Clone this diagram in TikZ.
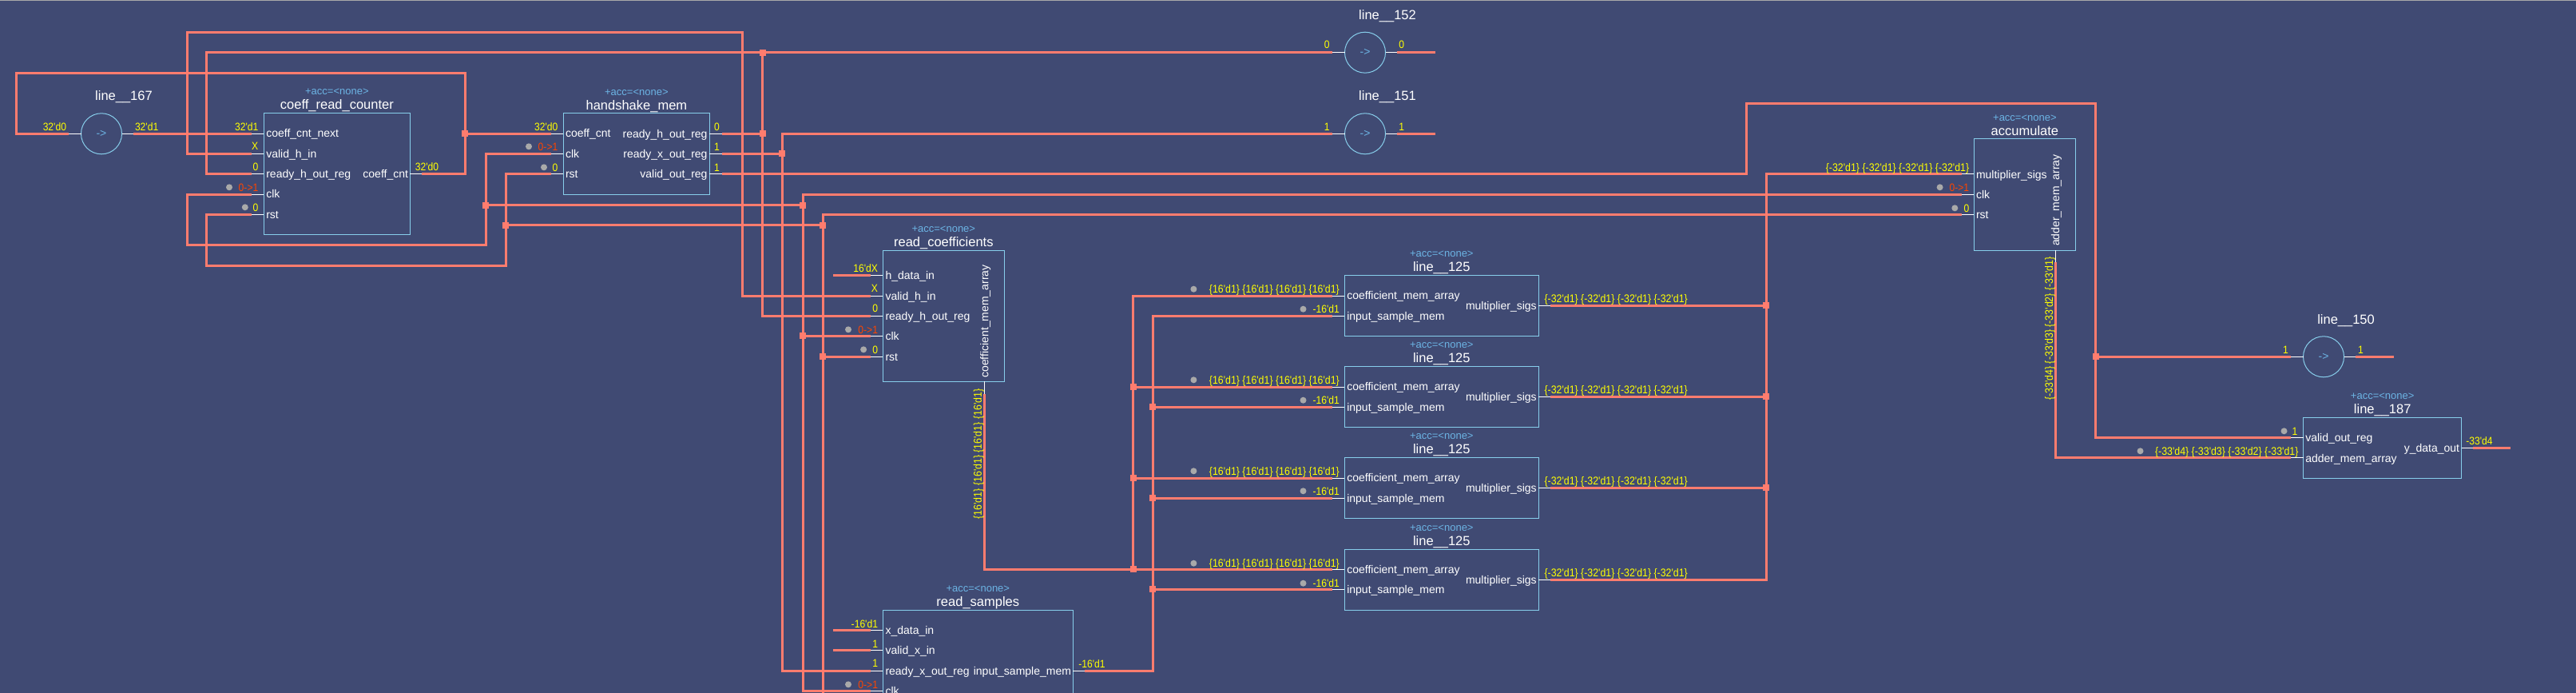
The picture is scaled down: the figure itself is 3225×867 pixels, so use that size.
\documentclass[tikz,border=0pt]{standalone}
\usepackage{fontspec}
\newfontfamily\sigfont{Liberation Sans}
\newfontfamily\valfont[FakeStretch=0.89]{Liberation Sans}
\definecolor{cfond}{HTML}{404A73}
\definecolor{cfil}{HTML}{FF7C6E}
\definecolor{cbord}{HTML}{87CEEB}
\definecolor{cacc}{HTML}{6CB4E4}
\definecolor{cval}{HTML}{FFFF00}
\definecolor{cfront}{HTML}{FF4500}
\definecolor{cpoint}{HTML}{A9A9A9}
\begin{document}
\begin{tikzpicture}[x=1pt, y=-1pt]
	\tikzset{
		bloc/.style={rectangle, draw=cbord, line width=1pt, inner sep=0pt, outer sep=0pt},
		cercle/.style={circle, draw=cbord, line width=1pt, inner sep=0pt, outer sep=0pt, minimum size=51pt, text=cacc, font=\sigfont\fontsize{14}{16}\selectfont},
		fil/.style={draw=cfil, line width=3pt},
		patte/.style={draw=white, line width=1pt},
		jonction/.style={rectangle, fill=cfil, inner sep=0pt, outer sep=0pt, minimum size=8pt},
		temoin/.style={circle, fill=cpoint, inner sep=0pt, outer sep=0pt, minimum size=8pt},
		texte/.style={inner sep=0pt, outer sep=0pt, text depth=0pt},
		titre/.style={texte, text=white, text height=11.8pt, font=\sigfont\fontsize{16.5}{18}\selectfont},
		acc/.style={texte, text=cacc, text height=9.4pt, font=\sigfont\fontsize{13}{15}\selectfont},
		port/.style={texte, text=white, text height=10pt, font=\sigfont\fontsize{14}{16}\selectfont},
		val/.style={texte, text=cval, text height=9.7pt, font=\valfont\fontsize{13.6}{15}\selectfont},
		bus/.style={texte, text=cval, text height=9.7pt, font=\valfont\fontsize{13.9}{15}\selectfont},
		montant/.style={texte, text=cfront, text height=9.7pt, font=\valfont\fontsize{13.6}{15}\selectfont}
	}

	\useasboundingbox (0,0) rectangle (3225,867);
	\clip (0,0) rectangle (3225,867);
	\fill[cfond] (0,0) rectangle (3225,867);
	\fill[cpoint] (0,0) rectangle (3225,1.5);

	\node[bloc, minimum width=183pt,   minimum height=152pt] (crc)   at ( 421.9, 217.3) {};
	\node[bloc, minimum width=183pt,   minimum height=102pt] (hm)    at ( 796.9, 192.3) {};
	\node[bloc, minimum width=151.7pt, minimum height=164pt] (rc)    at (1181.3, 395.3) {};
	\node[bloc, minimum width=237.8pt, minimum height=152pt] (rs)    at (1224.3, 839.3) {};
	\node[bloc, minimum width=243.1pt, minimum height=76pt]  (l125a) at (1804.8, 382.3) {};
	\node[bloc, minimum width=243.1pt, minimum height=76pt]  (l125b) at (1804.8, 496.3) {};
	\node[bloc, minimum width=243.1pt, minimum height=76pt]  (l125c) at (1804.8, 610.3) {};
	\node[bloc, minimum width=243.1pt, minimum height=76pt]  (l125d) at (1804.8, 725.3) {};
	\node[bloc, minimum width=127.1pt, minimum height=140pt] (ac)    at (2534.9, 243.3) {};
	\node[bloc, minimum width=197.9pt, minimum height=76pt]  (l187)  at (2982.7, 560.3) {};

	\node[cercle] (l167) at ( 127,   167.3) {->};
	\node[cercle] (l152) at (1709,    65.7) {->};
	\node[cercle] (l151) at (1709,   167.3) {->};
	\node[cercle] (l150) at (2909,   446.3) {->};

	\node[titre] (t_l167)  at ( 155,   120)   {line\_\_167};
	\node[titre] (t_l152)  at (1737,    18.3) {line\_\_152};
	\node[titre] (t_l151)  at (1737,   120)   {line\_\_151};
	\node[titre] (t_l150)  at (2937,   399.3) {line\_\_150};
	\node[titre] (t_crc)   at ( 421.9, 131)   {coeff\_read\_counter};
	\node[titre] (t_hm)    at ( 796.9, 131.7) {handshake\_mem};
	\node[titre] (t_rc)    at (1181.3, 302.7) {read\_coefficients};
	\node[titre] (t_rs)    at (1224.3, 752.7) {read\_samples};
	\node[titre] (t_l125a) at (1804.8, 333.3) {line\_\_125};
	\node[titre] (t_l125b) at (1804.8, 447.3) {line\_\_125};
	\node[titre] (t_l125c) at (1804.8, 561.3) {line\_\_125};
	\node[titre] (t_l125d) at (1804.8, 676.3) {line\_\_125};
	\node[titre] (t_ac)    at (2534.9, 163.3) {accumulate};
	\node[titre] (t_l187)  at (2982.7, 511.7) {line\_\_187};

	\node[acc] (a_crc)   at ( 421.9, 113.7) {+acc=<none>};
	\node[acc] (a_hm)    at ( 796.9, 114.7) {+acc=<none>};
	\node[acc] (a_rc)    at (1181.3, 286)   {+acc=<none>};
	\node[acc] (a_rs)    at (1224.3, 736)   {+acc=<none>};
	\node[acc] (a_l125a) at (1804.8, 316.7) {+acc=<none>};
	\node[acc] (a_l125b) at (1804.8, 430.3) {+acc=<none>};
	\node[acc] (a_l125c) at (1804.8, 544.7) {+acc=<none>};
	\node[acc] (a_l125d) at (1804.8, 660)   {+acc=<none>};
	\node[acc] (a_ac)    at (2534.9, 146.7) {+acc=<none>};
	\node[acc] (a_l187)  at (2982.7, 494.7) {+acc=<none>};

	\node[port, anchor=west] (p_crc1) at ( 333.3, 166)   {coeff\_cnt\_next};
	\node[port, anchor=west] (p_crc2) at ( 333.3, 192)   {valid\_h\_in};
	\node[port, anchor=west] (p_crc3) at ( 333.3, 217)   {ready\_h\_out\_reg};
	\node[port, anchor=west] (p_crc4) at ( 333.3, 242.5) {clk};
	\node[port, anchor=west] (p_crc5) at ( 333.3, 268)   {rst};
	\node[port, anchor=east] (p_crc6) at ( 511,   217)   {coeff\_cnt};
	\node[port, anchor=west] (p_hm1)  at ( 708,   166)   {coeff\_cnt};
	\node[port, anchor=west] (p_hm2)  at ( 708,   192)   {clk};
	\node[port, anchor=west] (p_hm3)  at ( 708,   217)   {rst};
	\node[port, anchor=east] (p_hm4)  at ( 885.5, 167)   {ready\_h\_out\_reg};
	\node[port, anchor=east] (p_hm5)  at ( 885.5, 192)   {ready\_x\_out\_reg};
	\node[port, anchor=east] (p_hm6)  at ( 885.5, 217.5) {valid\_out\_reg};
	\node[port, anchor=west] (p_rc1)  at (1108.5, 344.3) {h\_data\_in};
	\node[port, anchor=west] (p_rc2)  at (1108.5, 370)   {valid\_h\_in};
	\node[port, anchor=west] (p_rc3)  at (1108.5, 395)   {ready\_h\_out\_reg};
	\node[port, anchor=west] (p_rc4)  at (1108.5, 420)   {clk};
	\node[port, anchor=west] (p_rc5)  at (1108.5, 446.3) {rst};
	\node[port, rotate=90]   (p_rc6)  at (1232.3, 402)   {coefficient\_mem\_array};
	\node[port, anchor=west] (p_rs1)  at (1108.5, 788.3) {x\_data\_in};
	\node[port, anchor=west] (p_rs2)  at (1108.5, 813.3) {valid\_x\_in};
	\node[port, anchor=west] (p_rs3)  at (1108.5, 839.3) {ready\_x\_out\_reg};
	\node[port, anchor=west] (p_rs4)  at (1108.5, 864.3) {clk};
	\node[port, anchor=east] (p_rs5)  at (1341,   839.3) {input\_sample\_mem};

	\node[port, anchor=west] (p_l125a1) at (1686.3, 369.5) {coefficient\_mem\_array};
	\node[port, anchor=west] (p_l125a2) at (1686.3, 395.3) {input\_sample\_mem};
	\node[port, anchor=east] (p_l125a3) at (1923.7, 382.3) {multiplier\_sigs};
	\node[port, anchor=west] (p_l125b1) at (1686.3, 483.5) {coefficient\_mem\_array};
	\node[port, anchor=west] (p_l125b2) at (1686.3, 509.3) {input\_sample\_mem};
	\node[port, anchor=east] (p_l125b3) at (1923.7, 496.3) {multiplier\_sigs};
	\node[port, anchor=west] (p_l125c1) at (1686.3, 597.5) {coefficient\_mem\_array};
	\node[port, anchor=west] (p_l125c2) at (1686.3, 623.3) {input\_sample\_mem};
	\node[port, anchor=east] (p_l125c3) at (1923.7, 610.3) {multiplier\_sigs};
	\node[port, anchor=west] (p_l125d1) at (1686.3, 712)   {coefficient\_mem\_array};
	\node[port, anchor=west] (p_l125d2) at (1686.3, 737.3) {input\_sample\_mem};
	\node[port, anchor=east] (p_l125d3) at (1923.7, 725.3) {multiplier\_sigs};

	\node[port, anchor=west] (p_ac1)  at (2474,   218)   {multiplier\_sigs};
	\node[port, anchor=west] (p_ac2)  at (2474,   243.3) {clk};
	\node[port, anchor=west] (p_ac3)  at (2474,   268.3) {rst};
	\node[port, rotate=90]   (p_ac4)  at (2573.2, 250.7) {adder\_mem\_array};
	\node[port, anchor=west] (p_l187a) at (2886.3, 547.3) {valid\_out\_reg};
	\node[port, anchor=west] (p_l187b) at (2886.3, 573)   {adder\_mem\_array};
	\node[port, anchor=east] (p_l187c) at (3079,   560.3) {y\_data\_out};

	\coordinate (l167_in)  at (  86,   167.3);
	\coordinate (l167_out) at ( 167,   167.3);
	\coordinate (l152_in)  at (1667.9,  65.7);
	\coordinate (l152_out) at (1748.9,  65.7);
	\coordinate (l152_fin) at (1796.7,  65.7);
	\coordinate (l151_in)  at (1667.9, 167.3);
	\coordinate (l151_out) at (1748.9, 167.3);
	\coordinate (l151_fin) at (1796.7, 167.3);
	\coordinate (l150_in)  at (2867.9, 446.3);
	\coordinate (l150_out) at (2949,   446.3);
	\coordinate (l150_fin) at (2997.4, 446.3);

	\coordinate (crc_next) at ( 315,   167.3);
	\coordinate (crc_vh)   at ( 315,   192.3);
	\coordinate (crc_rh)   at ( 315,   217.3);
	\coordinate (crc_clk)  at ( 315,   243.3);
	\coordinate (crc_rst)  at ( 315,   268.3);
	\coordinate (crc_cnt)  at ( 528,   217.3);
	\coordinate (hm_cnt)   at ( 690,   167.3);
	\coordinate (hm_clk)   at ( 690,   192.3);
	\coordinate (hm_rst)   at ( 690,   217.3);
	\coordinate (hm_rh)    at ( 903.7, 167.3);
	\coordinate (hm_rx)    at ( 903.7, 192.3);
	\coordinate (hm_v)     at ( 903.7, 217.3);
	\coordinate (rc_h)     at (1090,   344.3);
	\coordinate (rc_hfin)  at (1042.9, 344.3);
	\coordinate (rc_vh)    at (1090,   370.3);
	\coordinate (rc_rh)    at (1090,   395.3);
	\coordinate (rc_clk)   at (1090,   420.3);
	\coordinate (rc_rst)   at (1090,   446.3);
	\coordinate (rc_out)   at (1232.3, 493.3);
	\coordinate (rs_x)     at (1090,   788.3);
	\coordinate (rs_xfin)  at (1042.9, 788.3);
	\coordinate (rs_vx)    at (1090,   813.3);
	\coordinate (rs_vxfin) at (1042.9, 813.3);
	\coordinate (rs_rx)    at (1090,   839.3);
	\coordinate (rs_clk)   at (1090,   864.3);
	\coordinate (rs_out)   at (1357.9, 839.3);
	\coordinate (l125a_c)  at (1667.9, 370.3);
	\coordinate (l125a_i)  at (1667.9, 395.3);
	\coordinate (l125a_m)  at (1941,   382.3);
	\coordinate (l125b_c)  at (1667.9, 484.3);
	\coordinate (l125b_i)  at (1667.9, 509.3);
	\coordinate (l125b_m)  at (1941,   496.3);
	\coordinate (l125c_c)  at (1667.9, 598.3);
	\coordinate (l125c_i)  at (1667.9, 623.3);
	\coordinate (l125c_m)  at (1941,   610.3);
	\coordinate (l125d_c)  at (1667.9, 712.3);
	\coordinate (l125d_i)  at (1667.9, 737.3);
	\coordinate (l125d_m)  at (1941,   725.3);
	\coordinate (ac_m)     at (2455.8, 217.3);
	\coordinate (ac_clk)   at (2455.8, 243.3);
	\coordinate (ac_rst)   at (2455.8, 268.3);
	\coordinate (ac_out)   at (2573.7, 328.3);
	\coordinate (l187_v)   at (2867.9, 547.3);
	\coordinate (l187_a)   at (2867.9, 572.3);
	\coordinate (l187_out) at (3096.3, 560.3);
	\coordinate (l187_fin) at (3143.2, 560.3);

	\coordinate (c_cnt1) at ( 582.3,  91.3);
	\coordinate (c_cnt2) at (  20.4,  91.3);
	\coordinate (c_vh1)  at ( 234,    40.7);
	\coordinate (c_vh2)  at ( 929.8,  40.7);
	\coordinate (c_rh)   at ( 258.3,  65.7);
	\coordinate (c_rx)   at ( 979.4, 167.3);
	\coordinate (c_v1)   at (2186.6, 217.3);
	\coordinate (c_v2)   at (2186.6, 129.5);
	\coordinate (c_v3)   at (2623.7, 129.5);
	\coordinate (c_k1)   at ( 608.4, 306);
	\coordinate (c_k2)   at ( 234,   306);
	\coordinate (c_k3)   at (1005.2, 243.3);
	\coordinate (c_r1)   at ( 633.3, 332.3);
	\coordinate (c_r2)   at ( 258.3, 332.3);
	\coordinate (c_r3)   at (1030.1, 268.3);
	\coordinate (c_r4)   at (1030.1, 867);
	\coordinate (c_i)    at (1443.4, 395.3);
	\coordinate (c_c)    at (1418.5, 370.3);
	\coordinate (c_m)    at (2211.2, 217.3);

	\draw[fil] (l167_out) -- (crc_next);
	\draw[fil] (crc_cnt) -| (c_cnt1) -- (c_cnt2) |- (l167_in);
	\draw[fil] (crc_vh) -| (c_vh1) -- (c_vh2) |- (rc_vh);
	\draw[fil] (crc_rh) -| (c_rh) -- (l152_in);
	\draw[fil] (l151_in) -- (c_rx) |- (rs_rx);
	\draw[fil] (hm_v) -- (c_v1) -- (c_v2) -- (c_v3) |- (l187_v);
	\draw[fil] (hm_clk) -| (c_k1) -- (c_k2) |- (crc_clk);
	\draw[fil] (ac_clk) -- (c_k3) |- (rs_clk);
	\draw[fil] (hm_rst) -| (c_r1) -- (c_r2) |- (crc_rst);
	\draw[fil] (ac_rst) -- (c_r3) -- (c_r4);
	\draw[fil] (rc_out) |- (l125d_c);
	\draw[fil] (l125a_c) -- (c_c) -- (c_c |- l125d_c);
	\draw[fil] (rs_out) -| (c_i) -- (l125a_i);
	\draw[fil] (l125d_m) -| (c_m) -- (ac_m);
	\draw[fil] (ac_out) |- (l187_a);
	\draw[fil] (rc_h) -- (rc_hfin);
	\draw[fil] (rs_x) -- (rs_xfin);
	\draw[fil] (rs_vx) -- (rs_vxfin);
	\draw[fil] (l152_out) -- (l152_fin);
	\draw[fil] (l151_out) -- (l151_fin);
	\draw[fil] (l150_out) -- (l150_fin);
	\draw[fil] (l187_out) -- (l187_fin);

	\node[jonction] (j_cnt) at ( 582.3, 167.3) {};
	\node[jonction] (j_rh1) at ( 954.7,  65.7) {};
	\node[jonction] (j_rh2) at ( 954.7, 167.3) {};
	\node[jonction] (j_rx)  at ( 979.4, 192.3) {};
	\node[jonction] (j_k1)  at ( 608.4, 256.5) {};
	\node[jonction] (j_k2)  at (1005.2, 256.5) {};
	\node[jonction] (j_k3)  at (1005.2, 420.3) {};
	\node[jonction] (j_r1)  at ( 633.3, 281.7) {};
	\node[jonction] (j_r2)  at (1030.1, 281.7) {};
	\node[jonction] (j_r3)  at (1030.1, 446.3) {};
	\node[jonction] (j_c1)  at (1418.5, 484.3) {};
	\node[jonction] (j_c2)  at (1418.5, 598.3) {};
	\node[jonction] (j_c3)  at (1418.5, 712.3) {};
	\node[jonction] (j_i1)  at (1443.4, 509.3) {};
	\node[jonction] (j_i2)  at (1443.4, 623.3) {};
	\node[jonction] (j_i3)  at (1443.4, 737.3) {};
	\node[jonction] (j_m1)  at (2211.2, 382.3) {};
	\node[jonction] (j_m2)  at (2211.2, 496.3) {};
	\node[jonction] (j_m3)  at (2211.2, 610.3) {};
	\node[jonction] (j_v)   at (2623.7, 446.3) {};

	\draw[fil] (j_cnt) -- (hm_cnt);
	\draw[fil] (hm_rh) -- (j_rh2);
	\draw[fil] (j_rh1) |- (rc_rh);
	\draw[fil] (hm_rx) -- (j_rx);
	\draw[fil] (j_k1) -- (j_k2);
	\draw[fil] (j_k3) -- (rc_clk);
	\draw[fil] (j_r1) -- (j_r2);
	\draw[fil] (j_r3) -- (rc_rst);
	\draw[fil] (j_c1) -- (l125b_c);
	\draw[fil] (j_c2) -- (l125c_c);
	\draw[fil] (j_i1) -- (l125b_i);
	\draw[fil] (j_i2) -- (l125c_i);
	\draw[fil] (j_i3) -- (l125d_i);
	\draw[fil] (l125a_m) -- (j_m1);
	\draw[fil] (l125b_m) -- (j_m2);
	\draw[fil] (l125c_m) -- (j_m3);
	\draw[fil] (j_v) -- (l150_in);

	\draw[patte] (l167_in) -- (l167.west);
	\draw[patte] (l167_out) -- (l167.east);
	\draw[patte] (l152_in) -- (l152.west);
	\draw[patte] (l152_out) -- (l152.east);
	\draw[patte] (l151_in) -- (l151.west);
	\draw[patte] (l151_out) -- (l151.east);
	\draw[patte] (l150_in) -- (l150.west);
	\draw[patte] (l150_out) -- (l150.east);
	\draw[patte] (crc_next) -- (crc_next -| crc.west);
	\draw[patte] (crc_vh) -- (crc_vh -| crc.west);
	\draw[patte] (crc_rh) -- (crc_rh -| crc.west);
	\draw[patte] (crc_clk) -- (crc_clk -| crc.west);
	\draw[patte] (crc_rst) -- (crc_rst -| crc.west);
	\draw[patte] (crc_cnt) -- (crc_cnt -| crc.east);
	\draw[patte] (hm_cnt) -- (hm_cnt -| hm.west);
	\draw[patte] (hm_clk) -- (hm_clk -| hm.west);
	\draw[patte] (hm_rst) -- (hm_rst -| hm.west);
	\draw[patte] (hm_rh) -- (hm_rh -| hm.east);
	\draw[patte] (hm_rx) -- (hm_rx -| hm.east);
	\draw[patte] (hm_v) -- (hm_v -| hm.east);
	\draw[patte] (rc_h) -- (rc_h -| rc.west);
	\draw[patte] (rc_vh) -- (rc_vh -| rc.west);
	\draw[patte] (rc_rh) -- (rc_rh -| rc.west);
	\draw[patte] (rc_clk) -- (rc_clk -| rc.west);
	\draw[patte] (rc_rst) -- (rc_rst -| rc.west);
	\draw[patte] (rc_out) -- (rc_out |- rc.south);
	\draw[patte] (rs_x) -- (rs_x -| rs.west);
	\draw[patte] (rs_vx) -- (rs_vx -| rs.west);
	\draw[patte] (rs_rx) -- (rs_rx -| rs.west);
	\draw[patte] (rs_clk) -- (rs_clk -| rs.west);
	\draw[patte] (rs_out) -- (rs_out -| rs.east);
	\draw[patte] (l125a_c) -- (l125a_c -| l125a.west);
	\draw[patte] (l125a_i) -- (l125a_i -| l125a.west);
	\draw[patte] (l125a_m) -- (l125a_m -| l125a.east);
	\draw[patte] (l125b_c) -- (l125b_c -| l125b.west);
	\draw[patte] (l125b_i) -- (l125b_i -| l125b.west);
	\draw[patte] (l125b_m) -- (l125b_m -| l125b.east);
	\draw[patte] (l125c_c) -- (l125c_c -| l125c.west);
	\draw[patte] (l125c_i) -- (l125c_i -| l125c.west);
	\draw[patte] (l125c_m) -- (l125c_m -| l125c.east);
	\draw[patte] (l125d_c) -- (l125d_c -| l125d.west);
	\draw[patte] (l125d_i) -- (l125d_i -| l125d.west);
	\draw[patte] (l125d_m) -- (l125d_m -| l125d.east);
	\draw[patte] (ac_m) -- (ac_m -| ac.west);
	\draw[patte] (ac_clk) -- (ac_clk -| ac.west);
	\draw[patte] (ac_rst) -- (ac_rst -| ac.west);
	\draw[patte] (ac_out) -- (ac_out |- ac.south);
	\draw[patte] (l187_v) -- (l187_v -| l187.west);
	\draw[patte] (l187_a) -- (l187_a -| l187.west);
	\draw[patte] (l187_out) -- (l187_out -| l187.east);

	\node[temoin] (d_crc1)   at ( 287,   234.3) {};
	\node[temoin] (d_crc2)   at ( 306.8, 259.3) {};
	\node[temoin] (d_hm1)    at ( 662,   183.3) {};
	\node[temoin] (d_hm2)    at ( 681,   209.3) {};
	\node[temoin] (d_rc1)    at (1062,   412.3) {};
	\node[temoin] (d_rc2)    at (1081.1, 437.3) {};
	\node[temoin] (d_rs1)    at (1062,   856.3) {};
	\node[temoin] (d_l125a1) at (1494.4, 361.7) {};
	\node[temoin] (d_l125a2) at (1631.5, 386.7) {};
	\node[temoin] (d_l125b1) at (1494.4, 475.3) {};
	\node[temoin] (d_l125b2) at (1631.5, 500.7) {};
	\node[temoin] (d_l125c1) at (1494.4, 589.3) {};
	\node[temoin] (d_l125c2) at (1631.5, 614.3) {};
	\node[temoin] (d_l125d1) at (1494.4, 704.7) {};
	\node[temoin] (d_l125d2) at (1631.5, 729.7) {};
	\node[temoin] (d_ac1)    at (2428.6, 234.3) {};
	\node[temoin] (d_ac2)    at (2447.3, 260.3) {};
	\node[temoin] (d_l187a)  at (2859.5, 539.3) {};
	\node[temoin] (d_l187b)  at (2679.5, 564.3) {};

	\node[val, anchor=east] (v_l167a) at (  83,   158.3) {32'd0};
	\node[val, anchor=west] (v_l167b) at ( 169,   158.3) {32'd1};
	\node[val, anchor=east] (v_l152a) at (1664.7,  56)   {0};
	\node[val, anchor=west] (v_l152b) at (1751.4,  56)   {0};
	\node[val, anchor=east] (v_l151a) at (1664.7, 158.3) {1};
	\node[val, anchor=west] (v_l151b) at (1751.4, 158.3) {1};
	\node[val, anchor=east] (v_l150a) at (2864.7, 437.3) {1};
	\node[val, anchor=west] (v_l150b) at (2952,   437.3) {1};
	\node[val, anchor=east] (v_crc1)  at ( 323.3, 158.3) {32'd1};
	\node[val, anchor=east] (v_crc2)  at ( 323.3, 183)   {X};
	\node[val, anchor=east] (v_crc3)  at ( 323.3, 208.3) {0};
	\node[montant, anchor=east] (v_crc4) at ( 323.3, 234.3) {0->1};
	\node[val, anchor=east] (v_crc5)  at ( 323.3, 259.3) {0};
	\node[val, anchor=west] (v_crc6)  at ( 519.8, 208.3) {32'd0};
	\node[val, anchor=east] (v_hm1)   at ( 698.3, 158.3) {32'd0};
	\node[montant, anchor=east] (v_hm2) at ( 698.3, 183.3) {0->1};
	\node[val, anchor=east] (v_hm3)   at ( 698.3, 209.3) {0};
	\node[val, anchor=west] (v_hm4)   at ( 894,   158.3) {0};
	\node[val, anchor=west] (v_hm5)   at ( 894,   183.3) {1};
	\node[val, anchor=west] (v_hm6)   at ( 894,   209.3) {1};
	\node[val, anchor=east] (v_rc1)   at (1099,   336)   {16'dX};
	\node[val, anchor=east] (v_rc2)   at (1099,   361)   {X};
	\node[val, anchor=east] (v_rc3)   at (1099,   386)   {0};
	\node[montant, anchor=east] (v_rc4) at (1099, 412.3) {0->1};
	\node[val, anchor=east] (v_rc5)   at (1099,   437.3) {0};
	\node[bus, rotate=90]   (v_rc6)   at (1224,   568)   {\{16'd1\} \{16'd1\} \{16'd1\} \{16'd1\}};
	\node[val, anchor=east] (v_rs1)   at (1099,   780.7) {-16'd1};
	\node[val, anchor=east] (v_rs2)   at (1099,   805.3) {1};
	\node[val, anchor=east] (v_rs3)   at (1099,   830)   {1};
	\node[montant, anchor=east] (v_rs4) at (1099, 856.3) {0->1};
	\node[val, anchor=west] (v_rs5)   at (1350.3, 830.7) {-16'd1};

	\node[bus, anchor=east] (v_l125a1) at (1676.8, 361.7) {\{16'd1\} \{16'd1\} \{16'd1\} \{16'd1\}};
	\node[val, anchor=east] (v_l125a2) at (1676.8, 386.7) {-16'd1};
	\node[bus, anchor=west] (v_l125a3) at (1933.5, 373.3) {\{-32'd1\} \{-32'd1\} \{-32'd1\} \{-32'd1\}};
	\node[bus, anchor=east] (v_l125b1) at (1676.8, 475.3) {\{16'd1\} \{16'd1\} \{16'd1\} \{16'd1\}};
	\node[val, anchor=east] (v_l125b2) at (1676.8, 500.7) {-16'd1};
	\node[bus, anchor=west] (v_l125b3) at (1933.5, 487.3) {\{-32'd1\} \{-32'd1\} \{-32'd1\} \{-32'd1\}};
	\node[bus, anchor=east] (v_l125c1) at (1676.8, 589.3) {\{16'd1\} \{16'd1\} \{16'd1\} \{16'd1\}};
	\node[val, anchor=east] (v_l125c2) at (1676.8, 614.3) {-16'd1};
	\node[bus, anchor=west] (v_l125c3) at (1933.5, 601.3) {\{-32'd1\} \{-32'd1\} \{-32'd1\} \{-32'd1\}};
	\node[bus, anchor=east] (v_l125d1) at (1676.8, 704.7) {\{16'd1\} \{16'd1\} \{16'd1\} \{16'd1\}};
	\node[val, anchor=east] (v_l125d2) at (1676.8, 729.7) {-16'd1};
	\node[bus, anchor=west] (v_l125d3) at (1933.5, 716.3) {\{-32'd1\} \{-32'd1\} \{-32'd1\} \{-32'd1\}};

	\node[bus, anchor=east] (v_ac1)   at (2465.2, 209.3) {\{-32'd1\} \{-32'd1\} \{-32'd1\} \{-32'd1\}};
	\node[montant, anchor=east] (v_ac2) at (2465.2, 234.3) {0->1};
	\node[val, anchor=east] (v_ac3)   at (2465.2, 260.3) {0};
	\node[bus, rotate=90]   (v_ac4)   at (2565.3, 411)   {\{-33'd4\} \{-33'd3\} \{-33'd2\} \{-33'd1\}};
	\node[val, anchor=east] (v_l187a) at (2876.3, 539.3) {1};
	\node[bus, anchor=east] (v_l187b) at (2877.4, 564.3) {\{-33'd4\} \{-33'd3\} \{-33'd2\} \{-33'd1\}};
	\node[val, anchor=west] (v_l187c) at (3087.4, 551.3) {-33'd4};
\end{tikzpicture}
\end{document}
